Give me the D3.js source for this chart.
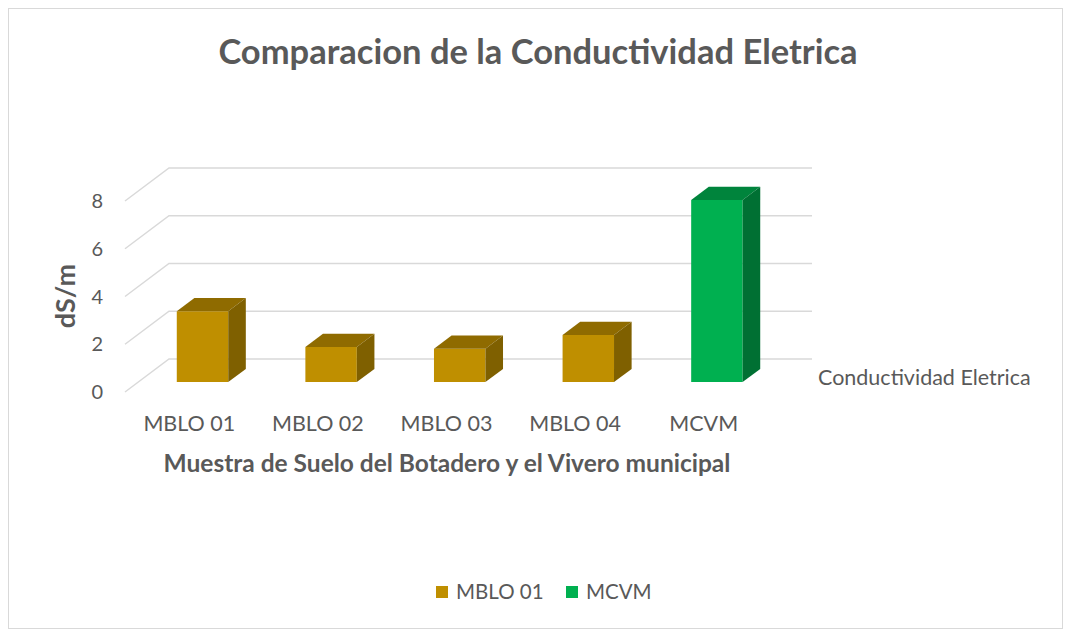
<!DOCTYPE html>
<html>
<head>
<meta charset="utf-8">
<script src="https://cdn.jsdelivr.net/npm/d3@7"></script>
<style>
  body { margin: 0; background: #fff; }
  text { font-family: Lato, "Open Sans", sans-serif; fill: #595959; }
</style>
</head>
<body>
<svg width="1068" height="631"></svg>
<script>
// data
var categories = ["MBLO 01", "MBLO 02", "MBLO 03", "MBLO 04", "MCVM"];
var values = [2.97, 1.47, 1.4, 1.97, 7.63];
var yTicks = [0, 2, 4, 6, 8];
var legendNames = ["MBLO 01", "MCVM"];
var seriesName = "Conductividad Eletrica";

// face colours: front, top, side
var gold = ["#bf8f00", "#8f6b00", "#7f6000"],
    green = ["#00b050", "#00843c", "#007033"];
var barColors = [gold, gold, gold, gold, green];

var svg = d3.select("svg");

// chart border
svg.append("rect")
   .attr("x", 8.5).attr("y", 8.5)
   .attr("width", 1054).attr("height", 620)
   .attr("fill", "#fff")
   .attr("stroke", "#d9d9d9");

// front plane of the 3d box, plus depth offset
var left = 125, right = 768,
    dx = 44, dy = -33;

var xScale = d3.scaleBand().domain(categories).range([left, right]),
    yScale = d3.scaleLinear().domain([0, 8]).range([392, 201]);

// project a point (front x, value, depth 0..1)
function proj(x, v, z) {
  return [x + z * dx, yScale(v) + z * dy];
}

function poly(pts) { return pts.map(function(p) { return p.join(","); }).join(" "); }

// gridlines: diagonal on the side and across the back wall
var grid = svg.append("g");
yTicks.forEach(function(t) {
  grid.append("polyline")
      .attr("points", poly([proj(left, t, 0), proj(left, t, 1), proj(right, t, 1)]))
      .attr("fill", "none")
      .attr("stroke", "#d9d9d9")
      .attr("stroke-width", 1.5);
});

// y tick labels
svg.append("g").selectAll("text")
   .data(yTicks)
   .enter().append("text")
   .attr("x", 103)
   .attr("y", function(d) { return yScale(d) + 7; })
   .attr("text-anchor", "end")
   .attr("font-size", 20)
   .text(function(d) { return d; });

// bars, drawn as front/top/side faces
var z0 = 0.3, z1 = 0.7, bw = xScale.bandwidth() * 0.4;
var bars = svg.append("g").selectAll("g")
   .data(values)
   .enter().append("g");

function edges(i) {
  var c = xScale(categories[i]) + xScale.bandwidth() / 2;
  return [c - bw / 2, c + bw / 2];
}

bars.append("polygon")
    .attr("points", function(d, i) {
      var e = edges(i);
      return poly([proj(e[0], 0, z0), proj(e[0], d, z0), proj(e[1], d, z0), proj(e[1], 0, z0)]);
    })
    .attr("fill", function(d, i) { return barColors[i][0]; });

bars.append("polygon")
    .attr("points", function(d, i) {
      var e = edges(i);
      return poly([proj(e[0], d, z0), proj(e[1], d, z0), proj(e[1], d, z1), proj(e[0], d, z1)]);
    })
    .attr("fill", function(d, i) { return barColors[i][1]; });

bars.append("polygon")
    .attr("points", function(d, i) {
      var e = edges(i);
      return poly([proj(e[1], 0, z0), proj(e[1], d, z0), proj(e[1], d, z1), proj(e[1], 0, z1)]);
    })
    .attr("fill", function(d, i) { return barColors[i][2]; });

// category labels
svg.append("g").selectAll("text")
   .data(categories)
   .enter().append("text")
   .attr("x", function(d) { return xScale(d) + xScale.bandwidth() / 2; })
   .attr("y", 431)
   .attr("text-anchor", "middle")
   .attr("font-size", 21.5)
   .text(function(d) { return d; });

// series name on the depth axis
svg.append("text")
   .attr("x", 818)
   .attr("y", 385)
   .attr("font-size", 21.5)
   .text(seriesName);

// titles
svg.append("text")
   .attr("x", 538)
   .attr("y", 64)
   .attr("text-anchor", "middle")
   .attr("font-size", 34.5)
   .attr("font-weight", "bold")
   .text("Comparacion de la Conductividad Eletrica");

svg.append("text")
   .attr("transform", "translate(75,296) rotate(-90)")
   .attr("text-anchor", "middle")
   .attr("font-size", 27)
   .attr("font-weight", "bold")
   .text("dS/m");

svg.append("text")
   .attr("x", 447)
   .attr("y", 472)
   .attr("text-anchor", "middle")
   .attr("font-size", 24.5)
   .attr("font-weight", "bold")
   .text("Muestra de Suelo del Botadero y el Vivero municipal");

// legend
var legendX = [436, 566];
var legend = svg.append("g").selectAll("g")
   .data(legendNames)
   .enter().append("g")
   .attr("transform", function(d, i) { return "translate(" + legendX[i] + ",586)"; });

legend.append("rect")
      .attr("width", 12).attr("height", 12)
      .attr("fill", function(d, i) { return i === 0 ? gold[0] : green[0]; });

legend.append("text")
      .attr("x", 20)
      .attr("y", 13)
      .attr("font-size", 20.5)
      .text(function(d) { return d; });
</script>
</body>
</html>
